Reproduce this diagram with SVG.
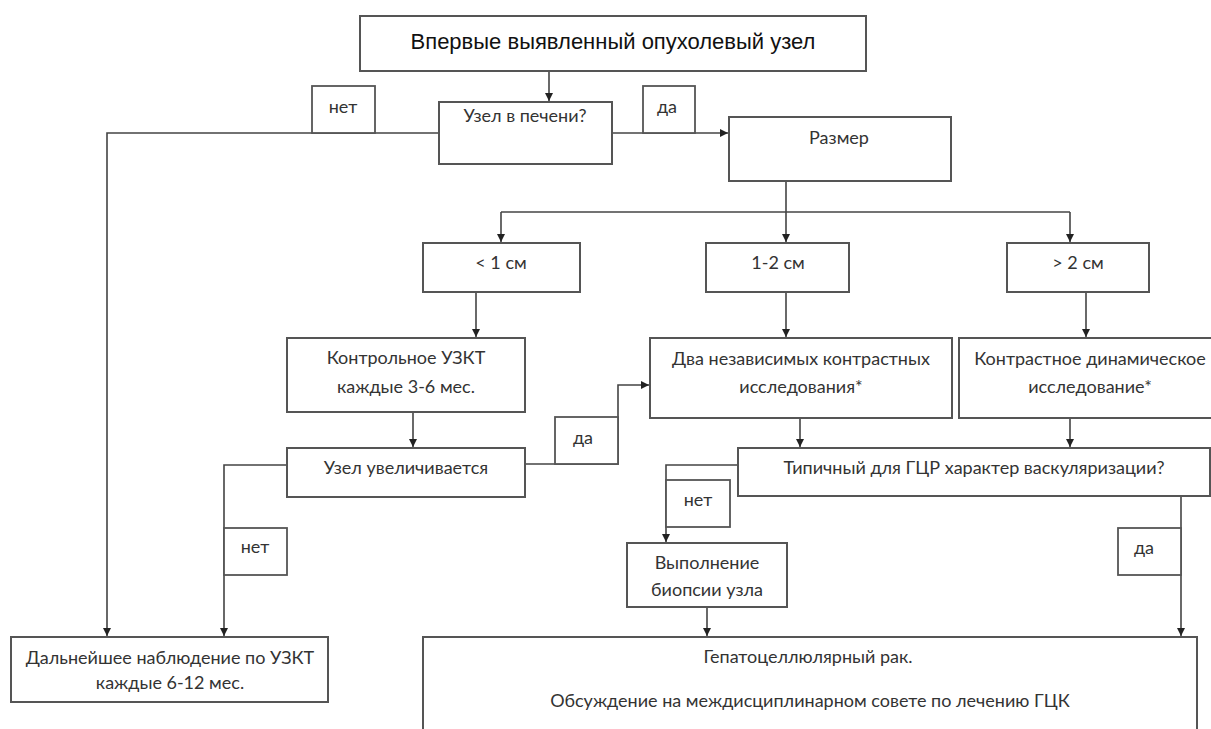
<svg xmlns="http://www.w3.org/2000/svg" width="1211" height="729" viewBox="0 0 1211 729">
<style>
.box{fill:#fff;stroke:#555;stroke-width:2}
.lbl{fill:#fff;stroke:#555;stroke-width:1.8}
.t{font-family:Lato,"Open Sans","Liberation Sans",sans-serif;font-size:18px;fill:#333;text-anchor:middle}
.title{font-family:"Liberation Sans",Arial,sans-serif;font-size:22px;fill:#111;text-anchor:middle}
.c{fill:none;stroke:#444;stroke-width:1.6}
</style>
<defs>
<marker id="ah" viewBox="0 0 8 8" markerWidth="8" markerHeight="8" refX="8" refY="4" orient="auto" markerUnits="userSpaceOnUse">
<path d="M0,0 L8,4 L0,8 z" fill="#222"/>
</marker>
</defs>
<rect width="1211" height="729" fill="#fff"/>

<g id="connectors">
<path class="c" d="M549,71 V101" marker-end="url(#ah)"/>
<path class="c" d="M439,133 H107 V636" marker-end="url(#ah)"/>
<path class="c" d="M612,133 H728" marker-end="url(#ah)"/>
<path class="c" d="M786,181 V242" marker-end="url(#ah)"/>
<path class="c" d="M501,212 H1070"/>
<path class="c" d="M501,212 V242" marker-end="url(#ah)"/>
<path class="c" d="M1070,212 V242" marker-end="url(#ah)"/>
<path class="c" d="M476,292 V337" marker-end="url(#ah)"/>
<path class="c" d="M413,412 V447" marker-end="url(#ah)"/>
<path class="c" d="M287,465 H224 V636" marker-end="url(#ah)"/>
<path class="c" d="M525,464 H618 V385 H649" marker-end="url(#ah)"/>
<path class="c" d="M786,292 V337" marker-end="url(#ah)"/>
<path class="c" d="M1086,292 V337" marker-end="url(#ah)"/>
<path class="c" d="M800,418 V447" marker-end="url(#ah)"/>
<path class="c" d="M1070,418 V447" marker-end="url(#ah)"/>
<path class="c" d="M738,465 H666 V542" marker-end="url(#ah)"/>
<path class="c" d="M707,607 V636" marker-end="url(#ah)"/>
<path class="c" d="M1181,496 V636" marker-end="url(#ah)"/>
</g>

<g id="n-start">
<rect class="box" x="360" y="16" width="506" height="55"/>
<text class="title" x="613" y="49">Впервые выявленный опухолевый узел</text>
</g>

<g id="n-liver">
<rect class="box" x="439" y="102" width="173" height="62"/>
<text class="t" x="525" y="122">Узел в печени?</text>
</g>

<g id="l-no1">
<rect class="lbl" x="312" y="86" width="63" height="47"/>
<text class="t" x="343" y="113">нет</text>
</g>

<g id="l-yes1">
<rect class="lbl" x="643" y="86" width="52" height="47"/>
<text class="t" x="667" y="113">да</text>
</g>

<g id="n-size">
<rect class="box" x="729" y="117" width="222" height="64"/>
<text class="t" x="839" y="144">Размер</text>
</g>

<g id="n-lt1">
<rect class="box" x="423" y="243" width="157" height="49"/>
<text class="t" x="501" y="269">&lt; 1 см</text>
</g>

<g id="n-12">
<rect class="box" x="706" y="243" width="143" height="49"/>
<text class="t" x="778" y="269">1-2 см</text>
</g>

<g id="n-gt2">
<rect class="box" x="1007" y="243" width="142" height="49"/>
<text class="t" x="1078" y="269">&gt; 2 см</text>
</g>

<g id="n-control">
<rect class="box" x="287" y="338" width="238" height="74"/>
<text class="t" x="406" y="364">Контрольное УЗКТ</text>
<text class="t" x="406" y="393">каждые 3-6 мес.</text>
</g>

<g id="n-grows">
<rect class="box" x="287" y="448" width="238" height="49"/>
<text class="t" x="406" y="474">Узел увеличивается</text>
</g>

<g id="l-yes2">
<rect class="lbl" x="555" y="417" width="63" height="47"/>
<text class="t" x="583" y="444">да</text>
</g>

<g id="l-no2">
<rect class="lbl" x="224" y="528" width="63" height="47"/>
<text class="t" x="255" y="553">нет</text>
</g>

<g id="n-two">
<rect class="box" x="650" y="338" width="302" height="80"/>
<text class="t" x="801" y="365">Два независимых контрастных</text>
<text class="t" x="801" y="393">исследования*</text>
</g>

<g id="n-contrast">
<rect class="box" x="959" y="338" width="270" height="80"/>
<text class="t" x="1090" y="365">Контрастное динамическое</text>
<text class="t" x="1090" y="393">исследование*</text>
</g>

<g id="n-typical">
<rect class="box" x="738" y="448" width="472" height="48"/>
<text class="t" x="974" y="474">Типичный для ГЦР характер васкуляризации?</text>
</g>

<g id="l-no3">
<rect class="lbl" x="666" y="480" width="64" height="47"/>
<text class="t" x="698" y="506">нет</text>
</g>

<g id="l-yes3">
<rect class="lbl" x="1118" y="528" width="63" height="47"/>
<text class="t" x="1144" y="554">да</text>
</g>

<g id="n-biopsy">
<rect class="box" x="627" y="543" width="160" height="64"/>
<text class="t" x="707" y="569">Выполнение</text>
<text class="t" x="707" y="596">биопсии узла</text>
</g>

<g id="n-observe">
<rect class="box" x="11" y="637" width="317" height="65"/>
<text class="t" x="170" y="664">Дальнейшее наблюдение по УЗКТ</text>
<text class="t" x="170" y="689">каждые 6-12 мес.</text>
</g>

<g id="n-hcc">
<rect class="box" x="423" y="637" width="774" height="110"/>
<text class="t" x="808" y="663">Гепатоцеллюлярный рак.</text>
<text class="t" x="810" y="707">Обсуждение на междисциплинарном совете по лечению ГЦК</text>
</g>
</svg>
